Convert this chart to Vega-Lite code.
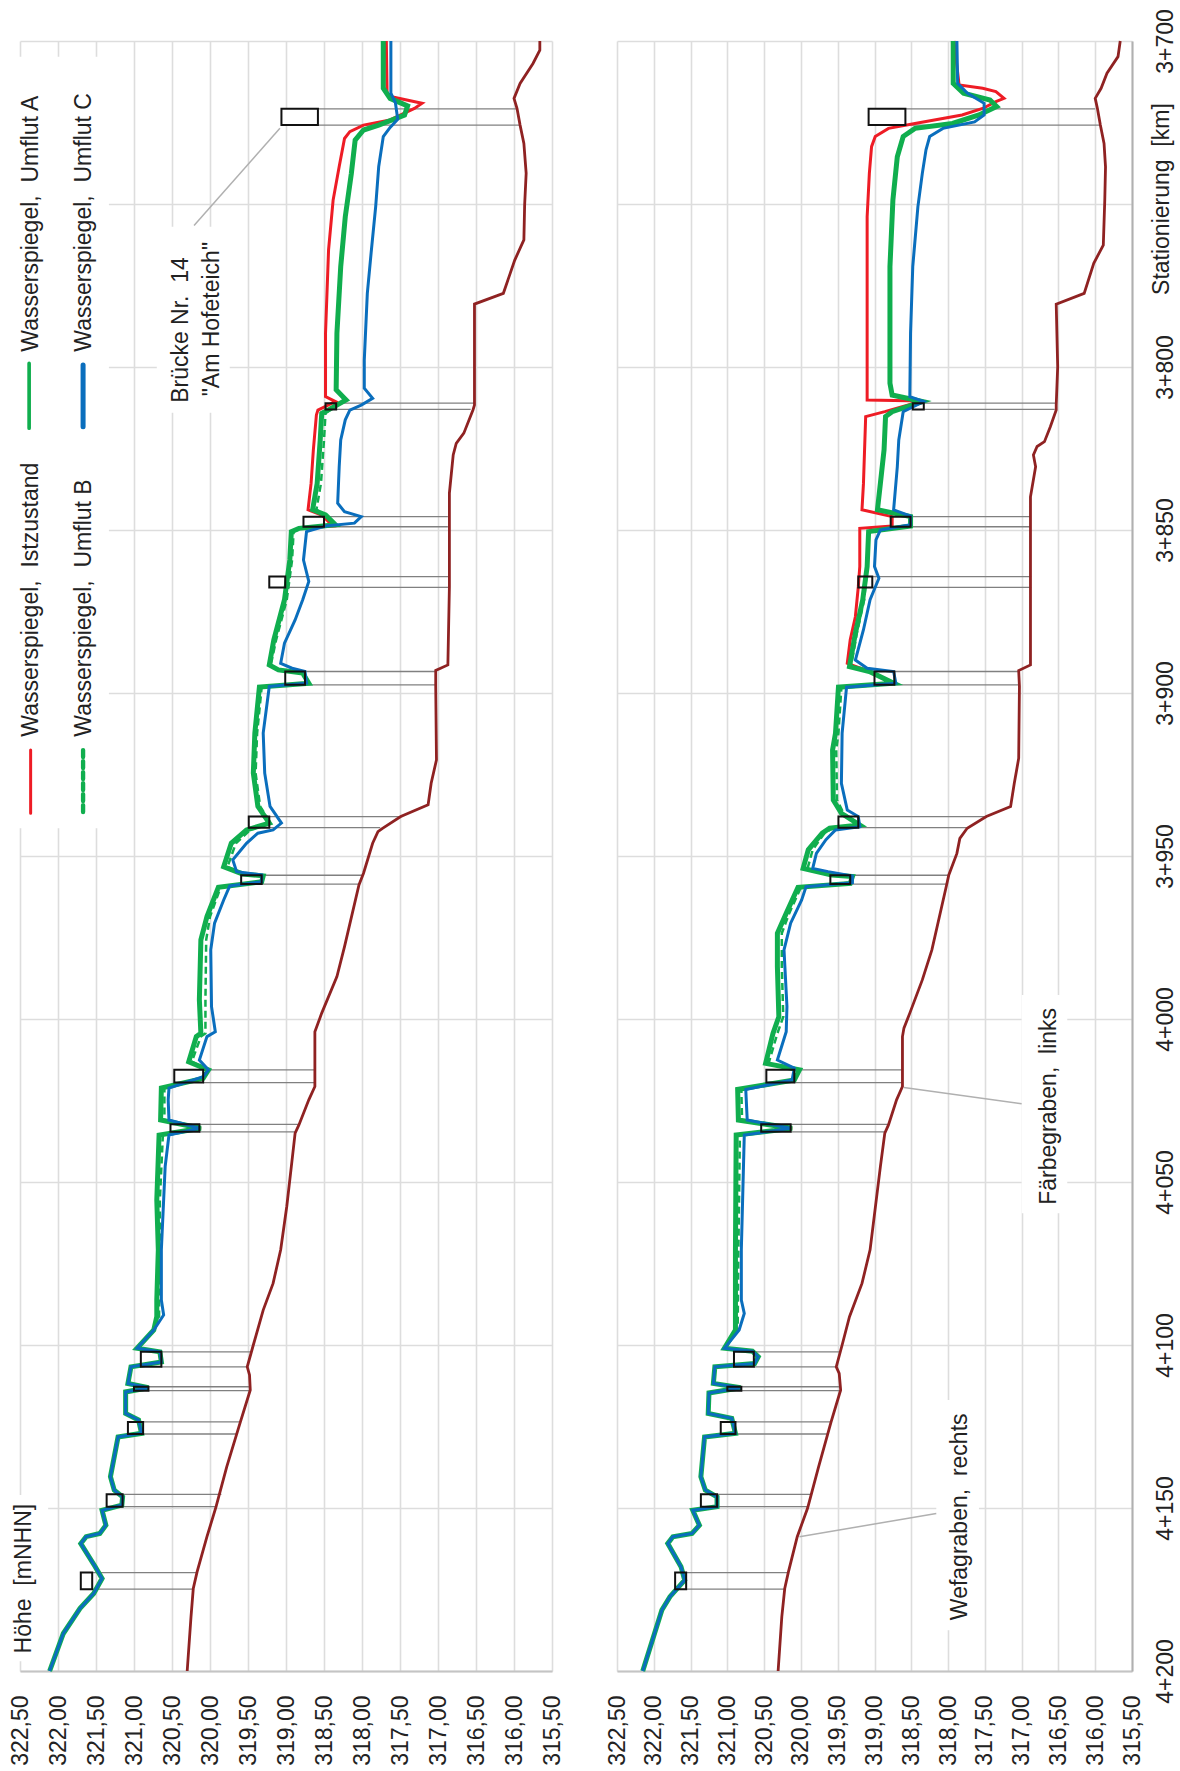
{"$schema":"https://vega.github.io/schema/vega-lite/v6.json","background":"white","padding":{"left":9,"top":8,"right":0,"bottom":0},"bounds":"flush","spacing":65,"config":{"view":{"stroke":null},"font":"Liberation Sans","text":{"font":"Liberation Sans"}},
"datasets":{
"lineL":[
{"k":"S","s":3700,"h":315.66},{"k":"S","s":3702.8,"h":315.66},{"k":"S","s":3706.9,"h":315.75},{"k":"S","s":3713,"h":315.92},{"k":"S","s":3717.6,"h":316},{"k":"S","s":3720.7,"h":315.96},{"k":"S","s":3725.8,"h":315.92},{"k":"S","s":3731.4,"h":315.87},{"k":"S","s":3740.6,"h":315.84},{"k":"S","s":3750.3,"h":315.86},{"k":"S","s":3761,"h":315.87},{"k":"S","s":3767.2,"h":315.99},{"k":"S","s":3777.4,"h":316.14},{"k":"S","s":3780.7,"h":316.52},{"k":"S","s":3811.7,"h":316.52},{"k":"S","s":3813.2,"h":316.54},{"k":"S","s":3820.3,"h":316.66},{"k":"S","s":3823.4,"h":316.76},{"k":"S","s":3827,"h":316.8},{"k":"S","s":3838.7,"h":316.85},{"k":"S","s":3849,"h":316.85},{"k":"S","s":3867.4,"h":316.85},{"k":"S","s":3891.4,"h":316.87},{"k":"S","s":3893.1,"h":317.03},{"k":"S","s":3898,"h":317.03},{"k":"S","s":3920.5,"h":317.02},{"k":"S","s":3927.7,"h":317.09},{"k":"S","s":3934.3,"h":317.13},{"k":"S","s":3937.9,"h":317.49},{"k":"S","s":3941.5,"h":317.73},{"k":"S","s":3942.5,"h":317.79},{"k":"S","s":3946.1,"h":317.86},{"k":"S","s":3955.3,"h":317.98},{"k":"S","s":3958.9,"h":318.04},{"k":"S","s":3977.8,"h":318.23},{"k":"S","s":3987,"h":318.33},{"k":"S","s":3998.2,"h":318.53},{"k":"S","s":4003.9,"h":318.62},{"k":"S","s":4020.7,"h":318.62},{"k":"S","s":4024.8,"h":318.7},{"k":"S","s":4032.5,"h":318.83},{"k":"S","s":4035,"h":318.88},{"k":"S","s":4045.3,"h":318.93},{"k":"S","s":4057.5,"h":318.99},{"k":"S","s":4070.8,"h":319.07},{"k":"S","s":4081.1,"h":319.17},{"k":"S","s":4089.3,"h":319.3},{"k":"S","s":4100,"h":319.43},{"k":"S","s":4106.7,"h":319.51},{"k":"S","s":4109.2,"h":319.48},{"k":"S","s":4113.8,"h":319.47},{"k":"S","s":4123.6,"h":319.6},{"k":"S","s":4137.4,"h":319.78},{"k":"S","s":4149.6,"h":319.92},{"k":"S","s":4158.8,"h":320.04},{"k":"S","s":4169.6,"h":320.17},{"k":"S","s":4174.7,"h":320.22},{"k":"S","s":4183.4,"h":320.25},{"k":"S","s":4200,"h":320.3},
{"k":"I","s":3700,"h":317.68},{"k":"I","s":3716,"h":317.67},{"k":"I","s":3717.1,"h":317.61},{"k":"I","s":3719.1,"h":317.21},{"k":"I","s":3720.7,"h":317.31},{"k":"I","s":3724.2,"h":317.63},{"k":"I","s":3725.8,"h":317.98},{"k":"I","s":3727.8,"h":318.16},{"k":"I","s":3729.9,"h":318.23},{"k":"I","s":3738.5,"h":318.3},{"k":"I","s":3748.8,"h":318.38},{"k":"I","s":3764.1,"h":318.44},{"k":"I","s":3789.7,"h":318.48},{"k":"I","s":3809.1,"h":318.48},{"k":"I","s":3810.6,"h":318.35},{"k":"I","s":3813.2,"h":318.58},{"k":"I","s":3814.7,"h":318.6},{"k":"I","s":3825.4,"h":318.64},{"k":"I","s":3835.7,"h":318.67},{"k":"I","s":3843.8,"h":318.71},{"k":"I","s":3845.4,"h":318.53},{"k":"I","s":3848.8,"h":318.38},{"k":"I","s":3849.5,"h":318.83},{"k":"I","s":3850.5,"h":318.93},{"k":"I","s":3859.2,"h":318.95},{"k":"I","s":3871.4,"h":319.02},{"k":"I","s":3883.7,"h":319.16},{"k":"I","s":3891.4,"h":319.22},{"k":"I","s":3892.9,"h":319.1},{"k":"I","s":3893.9,"h":318.78},{"k":"I","s":3897,"h":318.7},{"k":"I","s":3898.2,"h":319.35},{"k":"I","s":3912.3,"h":319.41},{"k":"I","s":3924.6,"h":319.43},{"k":"I","s":3934.8,"h":319.37},{"k":"I","s":3939.9,"h":319.22},{"k":"I","s":3942,"h":319.52},{"k":"I","s":3946.1,"h":319.72},{"k":"I","s":3953.3,"h":319.82},{"k":"I","s":3955.5,"h":319.57},{"k":"I","s":3956.1,"h":319.3},{"k":"I","s":3957.9,"h":319.32},{"k":"I","s":3959.6,"h":319.89},{"k":"I","s":3968.6,"h":320.04},{"k":"I","s":3975.7,"h":320.12},{"k":"I","s":3994.1,"h":320.14},{"k":"I","s":4004.4,"h":320.12},{"k":"I","s":4005.4,"h":320.18},{"k":"I","s":4013.1,"h":320.28},{"k":"I","s":4015.6,"h":320.02},{"k":"I","s":4018.2,"h":320.09},{"k":"I","s":4021.2,"h":320.64},{"k":"I","s":4031,"h":320.65},{"k":"I","s":4033.5,"h":320.12},{"k":"I","s":4035.6,"h":320.67},{"k":"I","s":4055.5,"h":320.7},{"k":"I","s":4070.8,"h":320.68},{"k":"I","s":4086.2,"h":320.7},{"k":"I","s":4091.3,"h":320.7},{"k":"I","s":4095.4,"h":320.74},
{"k":"A","s":3700,"h":317.72},{"k":"A","s":3714.5,"h":317.72},{"k":"A","s":3717.6,"h":317.63},{"k":"A","s":3719.9,"h":317.4},{"k":"A","s":3722.7,"h":317.44},{"k":"A","s":3725.8,"h":317.78},{"k":"A","s":3727.3,"h":317.98},{"k":"A","s":3730.4,"h":318.09},{"k":"A","s":3740.6,"h":318.14},{"k":"A","s":3753.9,"h":318.22},{"k":"A","s":3769.2,"h":318.28},{"k":"A","s":3789.7,"h":318.33},{"k":"A","s":3807,"h":318.34},{"k":"A","s":3810.1,"h":318.21},{"k":"A","s":3813,"h":318.43},{"k":"A","s":3814.2,"h":318.53},{"k":"A","s":3822.4,"h":318.55},{"k":"A","s":3835.7,"h":318.59},{"k":"A","s":3843.8,"h":318.65},{"k":"A","s":3845.4,"h":318.48},{"k":"A","s":3848.4,"h":318.35},{"k":"A","s":3849.5,"h":318.83},{"k":"A","s":3850.5,"h":318.93},{"k":"A","s":3859.2,"h":318.95},{"k":"A","s":3871.4,"h":319.02},{"k":"A","s":3883.7,"h":319.16},{"k":"A","s":3891.4,"h":319.22},{"k":"A","s":3892.9,"h":319.1},{"k":"A","s":3893.9,"h":318.78},{"k":"A","s":3897,"h":318.7},{"k":"A","s":3898.2,"h":319.35},{"k":"A","s":3912.3,"h":319.41},{"k":"A","s":3924.6,"h":319.43},{"k":"A","s":3934.8,"h":319.37},{"k":"A","s":3939.9,"h":319.22},{"k":"A","s":3942,"h":319.52},{"k":"A","s":3946.1,"h":319.72},{"k":"A","s":3953.3,"h":319.82},{"k":"A","s":3955.5,"h":319.57},{"k":"A","s":3956.1,"h":319.3},{"k":"A","s":3957.9,"h":319.32},{"k":"A","s":3959.6,"h":319.89},{"k":"A","s":3968.6,"h":320.04},{"k":"A","s":3975.7,"h":320.12},{"k":"A","s":3994.1,"h":320.14},{"k":"A","s":4004.4,"h":320.12},{"k":"A","s":4005.4,"h":320.18},{"k":"A","s":4013.1,"h":320.28},{"k":"A","s":4015.6,"h":320.02},{"k":"A","s":4018.2,"h":320.09},{"k":"A","s":4021.2,"h":320.64},{"k":"A","s":4031,"h":320.65},{"k":"A","s":4033.5,"h":320.12},{"k":"A","s":4035.6,"h":320.67},{"k":"A","s":4055.5,"h":320.7},{"k":"A","s":4070.8,"h":320.68},{"k":"A","s":4086.2,"h":320.7},{"k":"A","s":4091.3,"h":320.7},{"k":"A","s":4095.4,"h":320.74},{"k":"A","s":4101,"h":320.96},{"k":"A","s":4102.1,"h":320.66},{"k":"A","s":4105.2,"h":320.64},{"k":"A","s":4106.7,"h":321.04},{"k":"A","s":4111.8,"h":321.08},{"k":"A","s":4113.1,"h":320.81},{"k":"A","s":4114.4,"h":321.11},{"k":"A","s":4121,"h":321.11},{"k":"A","s":4123,"h":320.94},{"k":"A","s":4127.1,"h":320.9},{"k":"A","s":4128.2,"h":321.21},{"k":"A","s":4140.4,"h":321.31},{"k":"A","s":4144.5,"h":321.26},{"k":"A","s":4146.6,"h":321.15},{"k":"A","s":4149.1,"h":321.16},{"k":"A","s":4150.7,"h":321.42},{"k":"A","s":4155.3,"h":321.37},{"k":"A","s":4157.8,"h":321.45},{"k":"A","s":4158.8,"h":321.63},{"k":"A","s":4160.9,"h":321.7},{"k":"A","s":4168,"h":321.51},{"k":"A","s":4171.6,"h":321.42},{"k":"A","s":4176.2,"h":321.53},{"k":"A","s":4180.8,"h":321.71},{"k":"A","s":4188.5,"h":321.93},{"k":"A","s":4200,"h":322.11},
{"k":"B","s":3700,"h":317.72},{"k":"B","s":3714.5,"h":317.72},{"k":"B","s":3717.6,"h":317.63},{"k":"B","s":3719.9,"h":317.4},{"k":"B","s":3722.7,"h":317.44},{"k":"B","s":3725.8,"h":317.78},{"k":"B","s":3727.3,"h":317.98},{"k":"B","s":3730.4,"h":318.09},{"k":"B","s":3740.6,"h":318.14},{"k":"B","s":3753.9,"h":318.22},{"k":"B","s":3769.2,"h":318.28},{"k":"B","s":3789.7,"h":318.33},{"k":"B","s":3807,"h":318.34},{"k":"B","s":3810.1,"h":318.21},{"k":"B","s":3813,"h":318.41},{"k":"B","s":3814.2,"h":318.48},{"k":"B","s":3822.4,"h":318.5},{"k":"B","s":3835.7,"h":318.54},{"k":"B","s":3843.8,"h":318.6},{"k":"B","s":3845.4,"h":318.48},{"k":"B","s":3848.4,"h":318.35},{"k":"B","s":3849.5,"h":318.8},{"k":"B","s":3850.5,"h":318.9},{"k":"B","s":3859.2,"h":318.92},{"k":"B","s":3871.4,"h":318.99},{"k":"B","s":3883.7,"h":319.13},{"k":"B","s":3891.4,"h":319.2},{"k":"B","s":3892.9,"h":319.1},{"k":"B","s":3893.9,"h":318.78},{"k":"B","s":3897,"h":318.7},{"k":"B","s":3898.2,"h":319.32},{"k":"B","s":3912.3,"h":319.38},{"k":"B","s":3924.6,"h":319.4},{"k":"B","s":3934.8,"h":319.34},{"k":"B","s":3939.9,"h":319.2},{"k":"B","s":3942,"h":319.47},{"k":"B","s":3946.1,"h":319.66},{"k":"B","s":3953.3,"h":319.77},{"k":"B","s":3955.5,"h":319.57},{"k":"B","s":3956.1,"h":319.3},{"k":"B","s":3957.9,"h":319.32},{"k":"B","s":3959.6,"h":319.86},{"k":"B","s":3968.6,"h":320},{"k":"B","s":3975.7,"h":320.05},{"k":"B","s":3994.1,"h":320.06},{"k":"B","s":4004.4,"h":320.06},{"k":"B","s":4005.4,"h":320.12},{"k":"B","s":4013.1,"h":320.24},{"k":"B","s":4015.6,"h":320.02},{"k":"B","s":4018.2,"h":320.09},{"k":"B","s":4021.2,"h":320.6},{"k":"B","s":4031,"h":320.6},{"k":"B","s":4033.5,"h":320.12},{"k":"B","s":4035.6,"h":320.62},{"k":"B","s":4055.5,"h":320.66},{"k":"B","s":4070.8,"h":320.66},{"k":"B","s":4086.2,"h":320.67},{"k":"B","s":4091.3,"h":320.67},{"k":"B","s":4095.4,"h":320.74},
{"k":"C","s":3700,"h":317.62},{"k":"C","s":3716,"h":317.62},{"k":"C","s":3719,"h":317.56},{"k":"C","s":3724,"h":317.53},{"k":"C","s":3726.5,"h":317.63},{"k":"C","s":3729.3,"h":317.72},{"k":"C","s":3738.5,"h":317.78},{"k":"C","s":3750.8,"h":317.82},{"k":"C","s":3765,"h":317.88},{"k":"C","s":3777.4,"h":317.93},{"k":"C","s":3797.9,"h":317.97},{"k":"C","s":3806.5,"h":317.97},{"k":"C","s":3809.6,"h":317.86},{"k":"C","s":3811.7,"h":318.01},{"k":"C","s":3813.2,"h":318.16},{"k":"C","s":3816.2,"h":318.22},{"k":"C","s":3822.4,"h":318.28},{"k":"C","s":3830.6,"h":318.3},{"k":"C","s":3841.8,"h":318.32},{"k":"C","s":3844.4,"h":318.23},{"k":"C","s":3845.9,"h":318.01},{"k":"C","s":3847.9,"h":318.1},{"k":"C","s":3848.8,"h":318.48},{"k":"C","s":3850.5,"h":318.73},{"k":"C","s":3859.2,"h":318.77},{"k":"C","s":3865.8,"h":318.7},{"k":"C","s":3871.4,"h":318.78},{"k":"C","s":3877.6,"h":318.88},{"k":"C","s":3884.7,"h":319.02},{"k":"C","s":3890.9,"h":319.07},{"k":"C","s":3892.4,"h":318.92},{"k":"C","s":3893.4,"h":318.75},{"k":"C","s":3897,"h":318.73},{"k":"C","s":3898,"h":319.22},{"k":"C","s":3912.3,"h":319.3},{"k":"C","s":3924.6,"h":319.28},{"k":"C","s":3934.8,"h":319.21},{"k":"C","s":3939.9,"h":319.06},{"k":"C","s":3942,"h":319.17},{"k":"C","s":3943,"h":319.37},{"k":"C","s":3946.1,"h":319.52},{"k":"C","s":3951.2,"h":319.7},{"k":"C","s":3954.8,"h":319.65},{"k":"C","s":3955.8,"h":319.32},{"k":"C","s":3957.9,"h":319.32},{"k":"C","s":3959.2,"h":319.74},{"k":"C","s":3963.5,"h":319.82},{"k":"C","s":3970.6,"h":319.94},{"k":"C","s":3978.8,"h":319.99},{"k":"C","s":3996.2,"h":319.98},{"k":"C","s":4003.9,"h":319.93},{"k":"C","s":4005.4,"h":320.04},{"k":"C","s":4012.6,"h":320.14},{"k":"C","s":4015.6,"h":320.02},{"k":"C","s":4017.7,"h":320.09},{"k":"C","s":4021.2,"h":320.54},{"k":"C","s":4024.8,"h":320.55},{"k":"C","s":4031,"h":320.54},{"k":"C","s":4033.5,"h":320.14},{"k":"C","s":4035.6,"h":320.54},{"k":"C","s":4045.3,"h":320.59},{"k":"C","s":4070.8,"h":320.64},{"k":"C","s":4086.2,"h":320.64},{"k":"C","s":4090.8,"h":320.61},{"k":"C","s":4095.4,"h":320.74},{"k":"C","s":4101,"h":320.96},{"k":"C","s":4102.1,"h":320.66},{"k":"C","s":4105.2,"h":320.64},{"k":"C","s":4106.7,"h":321.04},{"k":"C","s":4111.8,"h":321.08},{"k":"C","s":4113.1,"h":320.81},{"k":"C","s":4114.4,"h":321.11},{"k":"C","s":4121,"h":321.11},{"k":"C","s":4123,"h":320.94},{"k":"C","s":4127.1,"h":320.9},{"k":"C","s":4128.2,"h":321.21},{"k":"C","s":4140.4,"h":321.31},{"k":"C","s":4144.5,"h":321.26},{"k":"C","s":4146.6,"h":321.15},{"k":"C","s":4149.1,"h":321.16},{"k":"C","s":4150.7,"h":321.42},{"k":"C","s":4155.3,"h":321.37},{"k":"C","s":4157.8,"h":321.45},{"k":"C","s":4158.8,"h":321.63},{"k":"C","s":4160.9,"h":321.7},{"k":"C","s":4168,"h":321.51},{"k":"C","s":4171.6,"h":321.42},{"k":"C","s":4176.2,"h":321.53},{"k":"C","s":4180.8,"h":321.71},{"k":"C","s":4188.5,"h":321.93},{"k":"C","s":4200,"h":322.11}
],
"lineR":[
{"k":"S","s":3700,"h":315.66},{"k":"S","s":3704.8,"h":315.69},{"k":"S","s":3709.9,"h":315.84},{"k":"S","s":3714.5,"h":315.92},{"k":"S","s":3717.6,"h":316},{"k":"S","s":3720.7,"h":315.97},{"k":"S","s":3725.8,"h":315.93},{"k":"S","s":3731.4,"h":315.88},{"k":"S","s":3738.6,"h":315.86},{"k":"S","s":3748.8,"h":315.87},{"k":"S","s":3762.6,"h":315.89},{"k":"S","s":3768.2,"h":316.02},{"k":"S","s":3777.4,"h":316.15},{"k":"S","s":3780.7,"h":316.53},{"k":"S","s":3799.9,"h":316.51},{"k":"S","s":3811.7,"h":316.53},{"k":"S","s":3813.2,"h":316.53},{"k":"S","s":3818.3,"h":316.61},{"k":"S","s":3822.9,"h":316.69},{"k":"S","s":3824.4,"h":316.79},{"k":"S","s":3827,"h":316.84},{"k":"S","s":3830.6,"h":316.81},{"k":"S","s":3839.8,"h":316.88},{"k":"S","s":3867.4,"h":316.88},{"k":"S","s":3891.4,"h":316.88},{"k":"S","s":3893.1,"h":317.04},{"k":"S","s":3898,"h":317.03},{"k":"S","s":3920,"h":317.04},{"k":"S","s":3927.7,"h":317.1},{"k":"S","s":3934.8,"h":317.15},{"k":"S","s":3937.9,"h":317.48},{"k":"S","s":3941.5,"h":317.74},{"k":"S","s":3944.6,"h":317.84},{"k":"S","s":3949.2,"h":317.88},{"k":"S","s":3955.8,"h":317.99},{"k":"S","s":3958.9,"h":318.02},{"k":"S","s":3978.8,"h":318.22},{"k":"S","s":3988,"h":318.35},{"k":"S","s":3998.2,"h":318.52},{"k":"S","s":4002.8,"h":318.6},{"k":"S","s":4005.4,"h":318.62},{"k":"S","s":4020.7,"h":318.62},{"k":"S","s":4024.8,"h":318.7},{"k":"S","s":4032.5,"h":318.81},{"k":"S","s":4035,"h":318.86},{"k":"S","s":4045.3,"h":318.92},{"k":"S","s":4070.8,"h":319.06},{"k":"S","s":4081.1,"h":319.17},{"k":"S","s":4091.3,"h":319.34},{"k":"S","s":4100,"h":319.44},{"k":"S","s":4106.7,"h":319.52},{"k":"S","s":4108.7,"h":319.48},{"k":"S","s":4113.8,"h":319.46},{"k":"S","s":4123.6,"h":319.59},{"k":"S","s":4137.4,"h":319.76},{"k":"S","s":4150.1,"h":319.91},{"k":"S","s":4158.8,"h":320.05},{"k":"S","s":4169.6,"h":320.17},{"k":"S","s":4174.7,"h":320.22},{"k":"S","s":4183.4,"h":320.26},{"k":"S","s":4200,"h":320.31},
{"k":"I","s":3700,"h":317.92},{"k":"I","s":3713.5,"h":317.85},{"k":"I","s":3714.5,"h":317.53},{"k":"I","s":3715.5,"h":317.35},{"k":"I","s":3717.6,"h":317.24},{"k":"I","s":3718.6,"h":317.35},{"k":"I","s":3720.7,"h":317.53},{"k":"I","s":3722.7,"h":317.81},{"k":"I","s":3725.3,"h":318.45},{"k":"I","s":3726.8,"h":318.81},{"k":"I","s":3729.3,"h":318.99},{"k":"I","s":3732.4,"h":319.04},{"k":"I","s":3740.6,"h":319.07},{"k":"I","s":3753.9,"h":319.1},{"k":"I","s":3810.1,"h":319.1},{"k":"I","s":3810.4,"h":318.35},{"k":"I","s":3813.7,"h":318.86},{"k":"I","s":3815.2,"h":319.12},{"k":"I","s":3835.7,"h":319.15},{"k":"I","s":3843.8,"h":319.17},{"k":"I","s":3845.9,"h":318.76},{"k":"I","s":3848.8,"h":318.76},{"k":"I","s":3849.5,"h":319.2},{"k":"I","s":3861.2,"h":319.2},{"k":"I","s":3867.4,"h":319.22},{"k":"I","s":3876.6,"h":319.26},{"k":"I","s":3883.7,"h":319.33},{"k":"I","s":3890.9,"h":319.37},{"k":"I","s":3893.4,"h":319.07},{"k":"I","s":3897,"h":318.74},{"k":"I","s":3898.2,"h":319.49},{"k":"I","s":3912.3,"h":319.53},{"k":"I","s":3917.5,"h":319.57},{"k":"I","s":3932.8,"h":319.56},{"k":"I","s":3936.9,"h":319.45},{"k":"I","s":3940.5,"h":319.2},{"k":"I","s":3941.5,"h":319.61},{"k":"I","s":3943,"h":319.71},{"k":"I","s":3948.1,"h":319.9},{"k":"I","s":3953.8,"h":319.97},{"k":"I","s":3955.8,"h":319.58},{"k":"I","s":3956.3,"h":319.3},{"k":"I","s":3958.4,"h":319.33},{"k":"I","s":3959.6,"h":320.04},{"k":"I","s":3967.6,"h":320.2},{"k":"I","s":3973.7,"h":320.32},{"k":"I","s":3983.9,"h":320.32},{"k":"I","s":3999.3,"h":320.3},{"k":"I","s":4004.4,"h":320.38},{"k":"I","s":4013.6,"h":320.48},{"k":"I","s":4015.6,"h":320.02},{"k":"I","s":4018.7,"h":320.09},{"k":"I","s":4021.6,"h":320.86},{"k":"I","s":4031,"h":320.85},{"k":"I","s":4033.5,"h":320.12},{"k":"I","s":4035.6,"h":320.88},{"k":"I","s":4070.8,"h":320.89},{"k":"I","s":4095.4,"h":320.89},
{"k":"A","s":3700,"h":317.93},{"k":"A","s":3713,"h":317.93},{"k":"A","s":3716,"h":317.79},{"k":"A","s":3718.1,"h":317.43},{"k":"A","s":3720.1,"h":317.34},{"k":"A","s":3722.7,"h":317.58},{"k":"A","s":3725.3,"h":317.94},{"k":"A","s":3726.8,"h":318.45},{"k":"A","s":3729.3,"h":318.61},{"k":"A","s":3735.5,"h":318.69},{"k":"A","s":3748.8,"h":318.75},{"k":"A","s":3769.2,"h":318.79},{"k":"A","s":3805,"h":318.79},{"k":"A","s":3808.6,"h":318.76},{"k":"A","s":3810.6,"h":318.35},{"k":"A","s":3813.7,"h":318.76},{"k":"A","s":3815.2,"h":318.85},{"k":"A","s":3825.4,"h":318.87},{"k":"A","s":3835.7,"h":318.92},{"k":"A","s":3843.8,"h":318.96},{"k":"A","s":3845.9,"h":318.51},{"k":"A","s":3848.8,"h":318.51},{"k":"A","s":3850.5,"h":319.08},{"k":"A","s":3861.2,"h":319.1},{"k":"A","s":3871.4,"h":319.16},{"k":"A","s":3881.7,"h":319.26},{"k":"A","s":3891.9,"h":319.34},{"k":"A","s":3893.4,"h":319.07},{"k":"A","s":3897,"h":318.74},{"k":"A","s":3898.2,"h":319.49},{"k":"A","s":3912.3,"h":319.53},{"k":"A","s":3917.5,"h":319.57},{"k":"A","s":3932.8,"h":319.56},{"k":"A","s":3936.9,"h":319.45},{"k":"A","s":3940.5,"h":319.2},{"k":"A","s":3941.5,"h":319.61},{"k":"A","s":3943,"h":319.71},{"k":"A","s":3948.1,"h":319.9},{"k":"A","s":3953.8,"h":319.97},{"k":"A","s":3955.8,"h":319.58},{"k":"A","s":3956.3,"h":319.3},{"k":"A","s":3958.4,"h":319.33},{"k":"A","s":3959.6,"h":320.04},{"k":"A","s":3967.6,"h":320.2},{"k":"A","s":3973.7,"h":320.32},{"k":"A","s":3983.9,"h":320.32},{"k":"A","s":3999.3,"h":320.3},{"k":"A","s":4004.4,"h":320.38},{"k":"A","s":4013.6,"h":320.48},{"k":"A","s":4015.6,"h":320.02},{"k":"A","s":4018.7,"h":320.09},{"k":"A","s":4021.6,"h":320.86},{"k":"A","s":4031,"h":320.85},{"k":"A","s":4033.5,"h":320.12},{"k":"A","s":4035.6,"h":320.88},{"k":"A","s":4070.8,"h":320.89},{"k":"A","s":4088.3,"h":320.89},{"k":"A","s":4095.4,"h":320.89},{"k":"A","s":4101,"h":321.04},{"k":"A","s":4101.9,"h":320.66},{"k":"A","s":4103.6,"h":320.58},{"k":"A","s":4105.7,"h":320.63},{"k":"A","s":4106.7,"h":321.17},{"k":"A","s":4111.8,"h":321.19},{"k":"A","s":4113.1,"h":320.82},{"k":"A","s":4114.7,"h":321.25},{"k":"A","s":4121,"h":321.26},{"k":"A","s":4122.5,"h":320.94},{"k":"A","s":4127.1,"h":320.89},{"k":"A","s":4128.2,"h":321.31},{"k":"A","s":4140.4,"h":321.36},{"k":"A","s":4144.5,"h":321.3},{"k":"A","s":4146.6,"h":321.14},{"k":"A","s":4149.6,"h":321.14},{"k":"A","s":4150.7,"h":321.47},{"k":"A","s":4155.3,"h":321.38},{"k":"A","s":4157.8,"h":321.48},{"k":"A","s":4158.8,"h":321.74},{"k":"A","s":4160.9,"h":321.81},{"k":"A","s":4168,"h":321.63},{"k":"A","s":4172.1,"h":321.58},{"k":"A","s":4177.2,"h":321.78},{"k":"A","s":4181.3,"h":321.89},{"k":"A","s":4200,"h":322.15},
{"k":"B","s":3700,"h":317.93},{"k":"B","s":3713,"h":317.93},{"k":"B","s":3716,"h":317.79},{"k":"B","s":3718.1,"h":317.43},{"k":"B","s":3720.1,"h":317.34},{"k":"B","s":3722.7,"h":317.58},{"k":"B","s":3725.3,"h":317.94},{"k":"B","s":3726.8,"h":318.45},{"k":"B","s":3729.3,"h":318.61},{"k":"B","s":3735.5,"h":318.69},{"k":"B","s":3748.8,"h":318.75},{"k":"B","s":3769.2,"h":318.79},{"k":"B","s":3805,"h":318.79},{"k":"B","s":3808.6,"h":318.76},{"k":"B","s":3810.6,"h":318.35},{"k":"B","s":3813.7,"h":318.76},{"k":"B","s":3815.2,"h":318.85},{"k":"B","s":3825.4,"h":318.87},{"k":"B","s":3835.7,"h":318.92},{"k":"B","s":3843.8,"h":318.96},{"k":"B","s":3845.9,"h":318.51},{"k":"B","s":3848.8,"h":318.51},{"k":"B","s":3850.5,"h":319.08},{"k":"B","s":3861.2,"h":319.1},{"k":"B","s":3871.4,"h":319.14},{"k":"B","s":3881.7,"h":319.24},{"k":"B","s":3891.9,"h":319.32},{"k":"B","s":3893.4,"h":319.07},{"k":"B","s":3897,"h":318.74},{"k":"B","s":3898.2,"h":319.45},{"k":"B","s":3912.3,"h":319.49},{"k":"B","s":3917.5,"h":319.52},{"k":"B","s":3932.8,"h":319.51},{"k":"B","s":3936.9,"h":319.42},{"k":"B","s":3940.5,"h":319.2},{"k":"B","s":3941.5,"h":319.57},{"k":"B","s":3943,"h":319.68},{"k":"B","s":3948.1,"h":319.84},{"k":"B","s":3953.8,"h":319.91},{"k":"B","s":3955.8,"h":319.58},{"k":"B","s":3956.3,"h":319.3},{"k":"B","s":3958.4,"h":319.33},{"k":"B","s":3959.6,"h":320},{"k":"B","s":3967.6,"h":320.16},{"k":"B","s":3973.7,"h":320.26},{"k":"B","s":3983.9,"h":320.26},{"k":"B","s":3999.3,"h":320.24},{"k":"B","s":4004.4,"h":320.32},{"k":"B","s":4013.6,"h":320.44},{"k":"B","s":4015.6,"h":320.02},{"k":"B","s":4018.7,"h":320.09},{"k":"B","s":4021.6,"h":320.81},{"k":"B","s":4031,"h":320.8},{"k":"B","s":4033.5,"h":320.12},{"k":"B","s":4035.6,"h":320.83},{"k":"B","s":4070.8,"h":320.85},{"k":"B","s":4095.4,"h":320.86},
{"k":"C","s":3700,"h":317.88},{"k":"C","s":3713,"h":317.87},{"k":"C","s":3716,"h":317.74},{"k":"C","s":3719.1,"h":317.51},{"k":"C","s":3722.7,"h":317.51},{"k":"C","s":3724.8,"h":317.64},{"k":"C","s":3726.8,"h":318.07},{"k":"C","s":3729.3,"h":318.25},{"k":"C","s":3733.4,"h":318.3},{"k":"C","s":3740.6,"h":318.35},{"k":"C","s":3750.8,"h":318.41},{"k":"C","s":3769.2,"h":318.48},{"k":"C","s":3789.7,"h":318.51},{"k":"C","s":3809.1,"h":318.52},{"k":"C","s":3810.6,"h":318.33},{"k":"C","s":3813.7,"h":318.61},{"k":"C","s":3815.2,"h":318.62},{"k":"C","s":3822.4,"h":318.67},{"k":"C","s":3830.6,"h":318.69},{"k":"C","s":3843.8,"h":318.74},{"k":"C","s":3845.7,"h":318.51},{"k":"C","s":3848.4,"h":318.51},{"k":"C","s":3850,"h":318.92},{"k":"C","s":3853,"h":318.98},{"k":"C","s":3861.2,"h":319},{"k":"C","s":3864.8,"h":318.94},{"k":"C","s":3871.4,"h":319.06},{"k":"C","s":3880.6,"h":319.15},{"k":"C","s":3889.9,"h":319.26},{"k":"C","s":3892.4,"h":319.1},{"k":"C","s":3893.4,"h":318.74},{"k":"C","s":3897,"h":318.71},{"k":"C","s":3898.2,"h":319.38},{"k":"C","s":3912.3,"h":319.44},{"k":"C","s":3927.7,"h":319.45},{"k":"C","s":3935.9,"h":319.37},{"k":"C","s":3937.9,"h":319.22},{"k":"C","s":3941,"h":319.2},{"k":"C","s":3942,"h":319.53},{"k":"C","s":3945,"h":319.66},{"k":"C","s":3949.2,"h":319.79},{"k":"C","s":3953.8,"h":319.84},{"k":"C","s":3954.8,"h":319.63},{"k":"C","s":3956.1,"h":319.3},{"k":"C","s":3958.2,"h":319.3},{"k":"C","s":3959.4,"h":319.93},{"k":"C","s":3963.5,"h":319.99},{"k":"C","s":3970.6,"h":320.14},{"k":"C","s":3978.8,"h":320.23},{"k":"C","s":3996.2,"h":320.19},{"k":"C","s":4003.9,"h":320.2},{"k":"C","s":4012.6,"h":320.32},{"k":"C","s":4015.1,"h":320.09},{"k":"C","s":4018.7,"h":320.12},{"k":"C","s":4021.6,"h":320.75},{"k":"C","s":4031,"h":320.73},{"k":"C","s":4033.5,"h":320.14},{"k":"C","s":4035.6,"h":320.77},{"k":"C","s":4070.8,"h":320.81},{"k":"C","s":4086.2,"h":320.81},{"k":"C","s":4090.3,"h":320.77},{"k":"C","s":4095.4,"h":320.84},{"k":"C","s":4101,"h":321.04},{"k":"C","s":4101.9,"h":320.66},{"k":"C","s":4103.6,"h":320.58},{"k":"C","s":4105.7,"h":320.63},{"k":"C","s":4106.7,"h":321.17},{"k":"C","s":4111.8,"h":321.19},{"k":"C","s":4113.1,"h":320.82},{"k":"C","s":4114.7,"h":321.25},{"k":"C","s":4121,"h":321.26},{"k":"C","s":4122.5,"h":320.94},{"k":"C","s":4127.1,"h":320.89},{"k":"C","s":4128.2,"h":321.31},{"k":"C","s":4140.4,"h":321.36},{"k":"C","s":4144.5,"h":321.3},{"k":"C","s":4146.6,"h":321.14},{"k":"C","s":4149.6,"h":321.14},{"k":"C","s":4150.7,"h":321.47},{"k":"C","s":4155.3,"h":321.38},{"k":"C","s":4157.8,"h":321.48},{"k":"C","s":4158.8,"h":321.74},{"k":"C","s":4160.9,"h":321.81},{"k":"C","s":4168,"h":321.63},{"k":"C","s":4172.1,"h":321.58},{"k":"C","s":4177.2,"h":321.78},{"k":"C","s":4181.3,"h":321.89},{"k":"C","s":4200,"h":322.15}
],
"bridgeL":[
{"s1":3720.8,"s2":3725.8,"top":319.06,"low":318.58,"bed1":315.96,"bed2":315.92},{"s1":3811.1,"s2":3813,"top":318.48,"low":318.34,"bed1":316.52,"bed2":316.57},{"s1":3845.9,"s2":3849,"top":318.77,"low":318.5,"bed1":316.87,"bed2":316.87},{"s1":3864.3,"s2":3867.6,"top":319.22,"low":319.01,"bed1":316.85,"bed2":316.85},{"s1":3893.4,"s2":3897.5,"top":319.01,"low":318.75,"bed1":317.03,"bed2":317.03},{"s1":3937.9,"s2":3941.3,"top":319.49,"low":319.22,"bed1":317.47,"bed2":317.76},{"s1":3955.9,"s2":3958.6,"top":319.59,"low":319.32,"bed1":317.98,"bed2":318.03},{"s1":4015.6,"s2":4019.5,"top":320.47,"low":320.09,"bed1":318.62,"bed2":318.62},{"s1":4032.3,"s2":4034.6,"top":320.52,"low":320.14,"bed1":318.83,"bed2":318.88},{"s1":4102.1,"s2":4106.7,"top":320.91,"low":320.64,"bed1":319.47,"bed2":319.51},{"s1":4112.8,"s2":4114,"top":321,"low":320.81,"bed1":319.47,"bed2":319.47},{"s1":4123.6,"s2":4127.3,"top":321.08,"low":320.88,"bed1":319.6,"bed2":319.64},{"s1":4145.8,"s2":4149.6,"top":321.36,"low":321.15,"bed1":319.85,"bed2":319.92},{"s1":4169.8,"s2":4174.9,"top":321.7,"low":321.55,"bed1":320.17,"bed2":320.22}],
"bridgeR":[
{"s1":3720.8,"s2":3725.8,"top":319.08,"low":318.58,"bed1":316,"bed2":315.93},{"s1":3811.1,"s2":3813,"top":318.48,"low":318.33,"bed1":316.53,"bed2":316.55},{"s1":3845.9,"s2":3849,"top":318.78,"low":318.51,"bed1":316.88,"bed2":316.88},{"s1":3864.3,"s2":3867.6,"top":319.22,"low":319.03,"bed1":316.87,"bed2":316.87},{"s1":3893.4,"s2":3897.5,"top":319,"low":318.73,"bed1":317.04,"bed2":317.03},{"s1":3937.9,"s2":3941.3,"top":319.49,"low":319.22,"bed1":317.48,"bed2":317.75},{"s1":3955.9,"s2":3958.6,"top":319.6,"low":319.33,"bed1":317.99,"bed2":318.02},{"s1":4015.6,"s2":4019.5,"top":320.47,"low":320.09,"bed1":318.61,"bed2":318.61},{"s1":4032.3,"s2":4034.6,"top":320.54,"low":320.14,"bed1":318.81,"bed2":318.86},{"s1":4102.1,"s2":4106.7,"top":320.91,"low":320.64,"bed1":319.48,"bed2":319.53},{"s1":4112.8,"s2":4114,"top":321,"low":320.81,"bed1":319.48,"bed2":319.45},{"s1":4123.6,"s2":4127.3,"top":321.09,"low":320.89,"bed1":319.59,"bed2":319.64},{"s1":4145.8,"s2":4149.6,"top":321.36,"low":321.14,"bed1":319.85,"bed2":319.91},{"s1":4169.8,"s2":4174.9,"top":321.71,"low":321.56,"bed1":320.17,"bed2":320.22}],
"boxL":[{"h1":322.6,"h2":321.33,"s1":3704.8,"s2":3941.5},{"h1":320.7,"h2":319.74,"s1":3757,"s2":3814},{"h1":322.6,"h2":322.13,"s1":4146,"s2":4197}],
"boxR":[{"h1":317,"h2":316.38,"s1":3992.6,"s2":4059.6},{"h1":318.16,"h2":317.58,"s1":4116.9,"s2":4187.5}],
"leadL":[{"h1":319.08,"h2":320.21,"s1":3726.8,"s2":3756.6}],
"leadR":[{"h1":318.6,"h2":317,"s1":4021,"s2":4026},{"h1":320.02,"h2":318.16,"s1":4158.8,"s2":4151.7}],
"textL":[{"t":"Wasserspiegel,\u00a0 Istzustand","h":322.26,"s":3913.4},{"t":"Wasserspiegel,\u00a0 Umflut B","h":321.57,"s":3913.4},{"t":"Wasserspiegel,\u00a0 Umflut A","h":322.26,"s":3795.3},{"t":"Wasserspiegel,\u00a0 Umflut C","h":321.57,"s":3795.3},{"t":"Brücke Nr.\u00a0 14","h":320.29,"s":3811},{"t":"\"Am Hofeteich\"","h":319.88,"s":3809},{"t":"Höhe\u00a0 [mNHN]","h":322.36,"s":4194.6}],
"textR":[{"t":"Färbegraben,\u00a0 links","h":316.53,"s":4057},{"t":"Wefagraben,\u00a0 rechts","h":317.74,"s":4184.4},{"t":"Stationierung\u00a0 [km]","h":315,"s":3777.9}],
"keyL":[{"k":"I","h":322.36,"s1":3917.5,"s2":3936.9},{"k":"B","h":321.67,"s1":3917.5,"s2":3936.9},{"k":"A","h":322.38,"s1":3798.9,"s2":3818.8},{"k":"C","h":321.67,"s1":3799.4,"s2":3818.3}]
},
"hconcat":[
{"width":532,"height":1630,"layer":[
{"data":{"name":"boxL"},"mark":{"type":"rect","fill":"white","stroke":null},"encoding":{"x":{"field":"h1","type":"quantitative","title":null,"scale":{"domain":[315.5,322.5],"reverse":true,"nice":false,"zero":false},"axis":{"values":[315.5,316,316.5,317,317.5,318,318.5,319,319.5,320,320.5,321,321.5,322,322.5],"tickCount":30,"labelExpr":"replace(format(datum.value,'.2f'),'.',',')","labelAngle":270,"labelAlign":"right","labelBaseline":"middle","labelFontSize":23,"labelFont":"Liberation Sans","labelColor":"#222222","labelPadding":24,"labelOverlap":false,"labelFlush":false,"labelBound":false,"ticks":false,"domainColor":"#c4c4c4","domainWidth":2,"grid":true,"gridColor":"#dddddd","gridWidth":1.6,"title":null}},"x2":{"field":"h2"},"y":{"field":"s1","type":"quantitative","title":null,"scale":{"domain":[3700,4200],"reverse":true,"nice":false,"zero":false},"axis":{"values":[3700,3750,3800,3850,3900,3950,4000,4050,4100,4150,4200],"labels":false,"ticks":false,"domain":false,"grid":true,"gridColor":"#dddddd","gridWidth":1.6,"title":null}},"y2":{"field":"s2"}}},
{"data":{"name":"leadL"},"mark":{"type":"rule","color":"#b0b0b0","strokeWidth":1.5},"encoding":{"x":{"field":"h1","type":"quantitative"},"x2":{"field":"h2"},"y":{"field":"s1","type":"quantitative"},"y2":{"field":"s2"}}},
{"data":{"name":"bridgeL"},"mark":{"type":"rule","color":"#808080","strokeWidth":1.3},"encoding":{"x":{"field":"low","type":"quantitative"},"x2":{"field":"bed1"},"y":{"field":"s1","type":"quantitative"}}},
{"data":{"name":"bridgeL"},"mark":{"type":"rule","color":"#808080","strokeWidth":1.3},"encoding":{"x":{"field":"low","type":"quantitative"},"x2":{"field":"bed2"},"y":{"field":"s2","type":"quantitative"}}},
{"data":{"name":"bridgeL"},"mark":{"type":"rect","fill":"white"},"encoding":{"x":{"field":"top","type":"quantitative"},"x2":{"field":"low"},"y":{"field":"s1","type":"quantitative"},"y2":{"field":"s2"}}},
{"data":{"name":"lineL"},"transform":[{"filter":"datum.k==='S'"}],"mark":{"type":"line","color":"#8f2222","strokeWidth":2.8},"encoding":{"x":{"field":"h","type":"quantitative"},"y":{"field":"s","type":"quantitative"},"order":{"field":"s","type":"quantitative"}}},
{"data":{"name":"lineL"},"transform":[{"filter":"datum.k==='I'"}],"mark":{"type":"line","color":"#ee1c25","strokeWidth":3},"encoding":{"x":{"field":"h","type":"quantitative"},"y":{"field":"s","type":"quantitative"},"order":{"field":"s","type":"quantitative"}}},
{"data":{"name":"lineL"},"transform":[{"filter":"datum.k==='A'"}],"mark":{"type":"line","color":"#10ae4e","strokeWidth":5},"encoding":{"x":{"field":"h","type":"quantitative"},"y":{"field":"s","type":"quantitative"},"order":{"field":"s","type":"quantitative"}}},
{"data":{"name":"lineL"},"transform":[{"filter":"datum.k==='B'"}],"mark":{"type":"line","color":"#10ae4e","strokeWidth":2.5,"strokeDash":[7,4]},"encoding":{"x":{"field":"h","type":"quantitative"},"y":{"field":"s","type":"quantitative"},"order":{"field":"s","type":"quantitative"}}},
{"data":{"name":"lineL"},"transform":[{"filter":"datum.k==='C'"}],"mark":{"type":"line","color":"#0a6ebd","strokeWidth":3},"encoding":{"x":{"field":"h","type":"quantitative"},"y":{"field":"s","type":"quantitative"},"order":{"field":"s","type":"quantitative"}}},
{"data":{"name":"bridgeL"},"mark":{"type":"rect","fillOpacity":0,"stroke":"#111111","strokeWidth":2},"encoding":{"x":{"field":"top","type":"quantitative"},"x2":{"field":"low"},"y":{"field":"s1","type":"quantitative"},"y2":{"field":"s2"}}},
{"data":{"name":"textL"},"mark":{"type":"text","angle":270,"align":"left","baseline":"alphabetic","fontSize":23,"font":"Liberation Sans","color":"#222222"},"encoding":{"x":{"field":"h","type":"quantitative"},"y":{"field":"s","type":"quantitative"},"text":{"field":"t"}}},
{"data":{"name":"keyL"},"mark":{"type":"rule","strokeCap":"round"},"encoding":{"x":{"field":"h","type":"quantitative"},"y":{"field":"s1","type":"quantitative"},"y2":{"field":"s2"},"color":{"field":"k","type":"nominal","legend":null,"scale":{"domain":["I","A","B","C"],"range":["#ee1c25","#10ae4e","#10ae4e","#0a6ebd"]}},"size":{"field":"k","type":"nominal","legend":null,"scale":{"domain":["I","A","B","C"],"range":[3,5,3,3]}},"strokeDash":{"field":"k","type":"nominal","legend":null,"scale":{"domain":["I","A","B","C"],"range":[[1,0],[1,0],[7,4],[1,0]]}}}}
]},
{"width":515,"height":1630,"layer":[
{"data":{"name":"boxR"},"mark":{"type":"rect","fill":"white","stroke":null},"encoding":{"x":{"field":"h1","type":"quantitative","title":null,"scale":{"domain":[315.5,322.5],"reverse":true,"nice":false,"zero":false},"axis":{"values":[315.5,316,316.5,317,317.5,318,318.5,319,319.5,320,320.5,321,321.5,322,322.5],"tickCount":30,"labelExpr":"replace(format(datum.value,'.2f'),'.',',')","labelAngle":270,"labelAlign":"right","labelBaseline":"middle","labelFontSize":23,"labelFont":"Liberation Sans","labelColor":"#222222","labelPadding":24,"labelOverlap":false,"labelFlush":false,"labelBound":false,"ticks":false,"domainColor":"#c4c4c4","domainWidth":2,"grid":true,"gridColor":"#dddddd","gridWidth":1.6,"title":null}},"x2":{"field":"h2"},"y":{"field":"s1","type":"quantitative","title":null,"scale":{"domain":[3700,4200],"reverse":true,"nice":false,"zero":false},"axis":{"orient":"right","values":[3700,3750,3800,3850,3900,3950,4000,4050,4100,4150,4200],"labelExpr":"datum.value===3750?'':floor(datum.value/1000)+'+'+format(datum.value%1000,'03d')","labelAngle":270,"labelAlign":"center","labelBaseline":"alphabetic","labelFontSize":23,"labelFont":"Liberation Sans","labelColor":"#222222","labelPadding":40,"labelOverlap":false,"labelFlush":false,"labelBound":false,"ticks":false,"domainColor":"#b0b0b0","domainWidth":2,"grid":true,"gridColor":"#dddddd","gridWidth":1.6,"title":null}},"y2":{"field":"s2"}}},
{"data":{"name":"leadR"},"mark":{"type":"rule","color":"#b0b0b0","strokeWidth":1.5},"encoding":{"x":{"field":"h1","type":"quantitative"},"x2":{"field":"h2"},"y":{"field":"s1","type":"quantitative"},"y2":{"field":"s2"}}},
{"data":{"name":"bridgeR"},"mark":{"type":"rule","color":"#808080","strokeWidth":1.3},"encoding":{"x":{"field":"low","type":"quantitative"},"x2":{"field":"bed1"},"y":{"field":"s1","type":"quantitative"}}},
{"data":{"name":"bridgeR"},"mark":{"type":"rule","color":"#808080","strokeWidth":1.3},"encoding":{"x":{"field":"low","type":"quantitative"},"x2":{"field":"bed2"},"y":{"field":"s2","type":"quantitative"}}},
{"data":{"name":"bridgeR"},"mark":{"type":"rect","fill":"white"},"encoding":{"x":{"field":"top","type":"quantitative"},"x2":{"field":"low"},"y":{"field":"s1","type":"quantitative"},"y2":{"field":"s2"}}},
{"data":{"name":"lineR"},"transform":[{"filter":"datum.k==='S'"}],"mark":{"type":"line","color":"#8f2222","strokeWidth":2.8},"encoding":{"x":{"field":"h","type":"quantitative"},"y":{"field":"s","type":"quantitative"},"order":{"field":"s","type":"quantitative"}}},
{"data":{"name":"lineR"},"transform":[{"filter":"datum.k==='I'"}],"mark":{"type":"line","color":"#ee1c25","strokeWidth":3},"encoding":{"x":{"field":"h","type":"quantitative"},"y":{"field":"s","type":"quantitative"},"order":{"field":"s","type":"quantitative"}}},
{"data":{"name":"lineR"},"transform":[{"filter":"datum.k==='A'"}],"mark":{"type":"line","color":"#10ae4e","strokeWidth":5},"encoding":{"x":{"field":"h","type":"quantitative"},"y":{"field":"s","type":"quantitative"},"order":{"field":"s","type":"quantitative"}}},
{"data":{"name":"lineR"},"transform":[{"filter":"datum.k==='B'"}],"mark":{"type":"line","color":"#10ae4e","strokeWidth":2.5,"strokeDash":[7,4]},"encoding":{"x":{"field":"h","type":"quantitative"},"y":{"field":"s","type":"quantitative"},"order":{"field":"s","type":"quantitative"}}},
{"data":{"name":"lineR"},"transform":[{"filter":"datum.k==='C'"}],"mark":{"type":"line","color":"#0a6ebd","strokeWidth":3},"encoding":{"x":{"field":"h","type":"quantitative"},"y":{"field":"s","type":"quantitative"},"order":{"field":"s","type":"quantitative"}}},
{"data":{"name":"bridgeR"},"mark":{"type":"rect","fillOpacity":0,"stroke":"#111111","strokeWidth":2},"encoding":{"x":{"field":"top","type":"quantitative"},"x2":{"field":"low"},"y":{"field":"s1","type":"quantitative"},"y2":{"field":"s2"}}},
{"data":{"name":"textR"},"mark":{"type":"text","angle":270,"align":"left","baseline":"alphabetic","fontSize":23,"font":"Liberation Sans","color":"#222222"},"encoding":{"x":{"field":"h","type":"quantitative"},"y":{"field":"s","type":"quantitative"},"text":{"field":"t"}}}
]}
]}
